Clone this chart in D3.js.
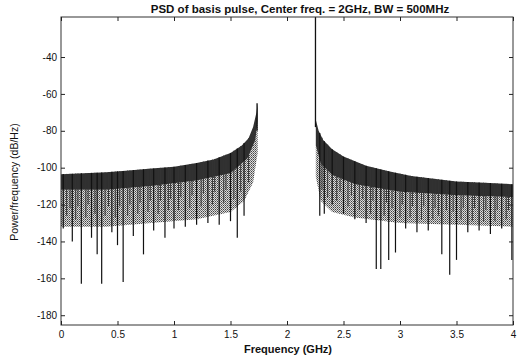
<!DOCTYPE html>
<html>
<head>
<meta charset="utf-8">
<script src="https://cdn.jsdelivr.net/npm/d3@7"></script>
<style>
  body { margin: 0; background: #fff; }
  text { font-family: "Liberation Sans", Arial, sans-serif; }
</style>
</head>
<body>
<div id="chart"></div>
<script>
// values: [freq GHz, dB/Hz]
var leftUpper = [[0,-103.5],[0.2,-103],[0.4,-102.5],[0.6,-101.5],[0.8,-100.5],[1.0,-99.5],[1.2,-97.5],[1.35,-95.5],[1.5,-92],[1.6,-88],[1.66,-84],[1.7,-78],[1.73,-70],[1.74,-65]]
var leftDark  = [[0,-112],[0.4,-112],[0.8,-110],[1.2,-107],[1.5,-103],[1.65,-95],[1.72,-85],[1.74,-75]]
var leftGrey  = [[0,-132],[0.4,-132],[0.8,-130],[1.2,-128],[1.5,-124],[1.62,-118],[1.7,-108],[1.74,-92]]

var rightUpper = [[2.255,-74],[2.28,-80],[2.32,-85],[2.4,-90],[2.5,-94],[2.7,-99],[2.9,-102],[3.1,-104.5],[3.3,-106],[3.5,-107.5],[3.7,-108],[4.0,-109]]
var rightDark  = [[2.255,-88],[2.3,-98],[2.4,-104],[2.6,-109],[3.0,-113],[3.5,-115],[4.0,-116]]
var rightGrey  = [[2.255,-105],[2.3,-118],[2.4,-124],[2.6,-127],[3.0,-130],[3.5,-131],[4.0,-132]]

// deep nulls: [freq, lowest dB]
var leftNulls = [[0.02,-133],[0.1,-140],[0.18,-163],[0.27,-138],[0.32,-147],[0.36,-163],[0.45,-135],[0.5,-142],[0.55,-162],[0.64,-137],[0.73,-147],[0.82,-134],[0.92,-138],[1.0,-133],[1.1,-132],[1.2,-131],[1.3,-130],[1.4,-131],[1.5,-129],[1.56,-138],[1.62,-126]]
var rightNulls = [[2.29,-126],[2.33,-125],[2.4,-120],[2.5,-125],[2.6,-128],[2.7,-130],[2.79,-155],[2.83,-155],[2.9,-150],[2.96,-146],[3.05,-133],[3.15,-135],[3.25,-134],[3.37,-147],[3.44,-158],[3.5,-150],[3.6,-135],[3.7,-134],[3.8,-136],[3.9,-133],[3.99,-150]]

// shallower strands inside the grey part: [freq, lowest dB]
var leftStrands = [[0.05,-126],[0.08,-122],[0.13,-128],[0.15,-121],[0.22,-127],[0.24,-120],[0.3,-125],[0.39,-126],[0.42,-121],[0.48,-127],[0.52,-121],[0.59,-126],[0.61,-120],[0.68,-125],[0.7,-119],[0.77,-124],[0.79,-118],[0.86,-125],[0.88,-118],[0.95,-123],[0.97,-117],[1.04,-123],[1.06,-116],[1.14,-122],[1.16,-115],[1.24,-121],[1.26,-114],[1.34,-120],[1.36,-113],[1.44,-119],[1.46,-112],[1.53,-117],[1.59,-113],[1.66,-108]]
var rightStrands = [[2.31,-112],[2.36,-116],[2.44,-118],[2.47,-113],[2.54,-121],[2.57,-115],[2.64,-123],[2.67,-117],[2.74,-125],[2.76,-118],[2.86,-126],[2.88,-119],[2.93,-122],[3.0,-127],[3.02,-120],[3.09,-127],[3.11,-121],[3.19,-128],[3.21,-121],[3.29,-128],[3.31,-122],[3.34,-126],[3.41,-123],[3.47,-124],[3.54,-128],[3.56,-122],[3.64,-129],[3.66,-122],[3.74,-129],[3.76,-123],[3.84,-129],[3.86,-123],[3.94,-128],[3.96,-123]]

// edge spikes: [freq, top dB, bottom dB]
var edgeSpikes = [[1.735,-65,-80],[2.252,-18.3,-78]]

var xTicks = [0,0.5,1,1.5,2,2.5,3,3.5,4]
var yTicks = [-40,-60,-80,-100,-120,-140,-160,-180]

var W = 520, H = 359
var margin = {top: 17, right: 7, bottom: 34, left: 61}
var width = W - margin.left - margin.right,
    height = H - margin.top - margin.bottom

var svg = d3.select("#chart").append("svg")
    .attr("width", W).attr("height", H)

var defs = svg.append("defs")
var pat = defs.append("pattern").attr("id", "dots")
    .attr("width", 2).attr("height", 2).attr("patternUnits", "userSpaceOnUse")
pat.append("rect").attr("width", 2).attr("height", 2).attr("fill", "#ddd")
pat.append("rect").attr("width", 1).attr("height", 1).attr("fill", "#444")
pat.append("rect").attr("x", 1).attr("y", 1).attr("width", 1).attr("height", 1).attr("fill", "#777")

var g = svg.append("g").attr("transform", "translate(" + margin.left + "," + margin.top + ")")

var x = d3.scaleLinear().domain([0, 4]).range([0, width])
var y = d3.scaleLinear().domain([-185.3, -18.3]).range([height, 0])

// build a band between two edges
function band(top, bot) {
  var pts = top.map(d => [x(d[0]), y(d[1])])
  var b = bot.slice().reverse().map(d => [x(d[0]), y(d[1])])
  return d3.line()(pts.concat(b)) + "Z"
}

var sides = [
  {up: leftUpper, dark: leftDark, grey: leftGrey, nulls: leftNulls, strands: leftStrands},
  {up: rightUpper, dark: rightDark, grey: rightGrey, nulls: rightNulls, strands: rightStrands}
]

function envTop(up, f) {
  // upper edge at f, straight between read points
  for (var i = 1; i < up.length; i++) if (f <= up[i][0]) {
    var a = up[i-1], b = up[i], t = (f - a[0]) / (b[0] - a[0])
    return a[1] + t * (b[1] - a[1])
  }
  return up[up.length-1][1]
}

sides.forEach(function(s) {
  g.append("path").attr("d", band(s.dark, s.grey)).attr("fill", "url(#dots)")
  g.append("path").attr("d", band(s.up, s.dark)).attr("fill", "#303030")
  g.selectAll(null).data(s.strands).enter().append("line")
    .attr("x1", d => x(d[0])).attr("x2", d => x(d[0]))
    .attr("y1", d => y(envTop(s.up, d[0]))).attr("y2", d => y(d[1]))
    .attr("stroke", "#333").attr("stroke-width", 1)
  g.selectAll(null).data(s.nulls).enter().append("line")
    .attr("x1", d => x(d[0])).attr("x2", d => x(d[0]))
    .attr("y1", d => y(envTop(s.up, d[0]))).attr("y2", d => y(d[1]))
    .attr("stroke", "#111").attr("stroke-width", 1.2)
})

g.selectAll(".edge").data(edgeSpikes).enter().append("line")
  .attr("x1", d => x(d[0])).attr("x2", d => x(d[0]))
  .attr("y1", d => y(d[1])).attr("y2", d => y(d[2]))
  .attr("stroke", "#111").attr("stroke-width", 1.3)

// axes, matlab style box with inward ticks
g.append("rect").attr("width", width).attr("height", height)
  .attr("fill", "none").attr("stroke", "#333").attr("stroke-width", 1)

var xb = g.append("g").attr("transform", "translate(0," + height + ")")
  .call(d3.axisBottom(x).tickValues(xTicks).tickSizeInner(-4).tickSizeOuter(0).tickPadding(6).tickFormat(d3.format("")))
var xt = g.append("g")
  .call(d3.axisTop(x).tickValues(xTicks).tickSizeInner(-4).tickSizeOuter(0).tickFormat(""))
var yl = g.append("g")
  .call(d3.axisLeft(y).tickValues(yTicks).tickSizeInner(-4).tickSizeOuter(0).tickPadding(4).tickFormat(d => "-" + Math.abs(d)))
var yr = g.append("g").attr("transform", "translate(" + width + ",0)")
  .call(d3.axisRight(y).tickValues(yTicks).tickSizeInner(-4).tickSizeOuter(0).tickFormat(""))

;[xb, xt, yl, yr].forEach(function(a) {
  a.select(".domain").remove()
  a.selectAll("line").attr("stroke", "#222")
  a.selectAll("text").attr("font-size", 10).attr("fill", "#111")
    .style("font-family", "'Liberation Sans', Arial, sans-serif")
})

svg.append("text").attr("x", 300).attr("y", 13).attr("text-anchor", "middle")
  .attr("font-size", 11.5).attr("font-weight", "bold").attr("fill", "#111")
  .text("PSD of basis pulse, Center freq. = 2GHz, BW = 500MHz")

svg.append("text").attr("x", 288).attr("y", 353).attr("text-anchor", "middle")
  .attr("font-size", 11).attr("font-weight", "bold").attr("fill", "#111")
  .text("Frequency (GHz)")

svg.append("text").attr("transform", "translate(18,182) rotate(-90)")
  .attr("text-anchor", "middle").attr("font-size", 10.5).attr("fill", "#111")
  .text("Power/frequency (dB/Hz)")
</script>
</body>
</html>
